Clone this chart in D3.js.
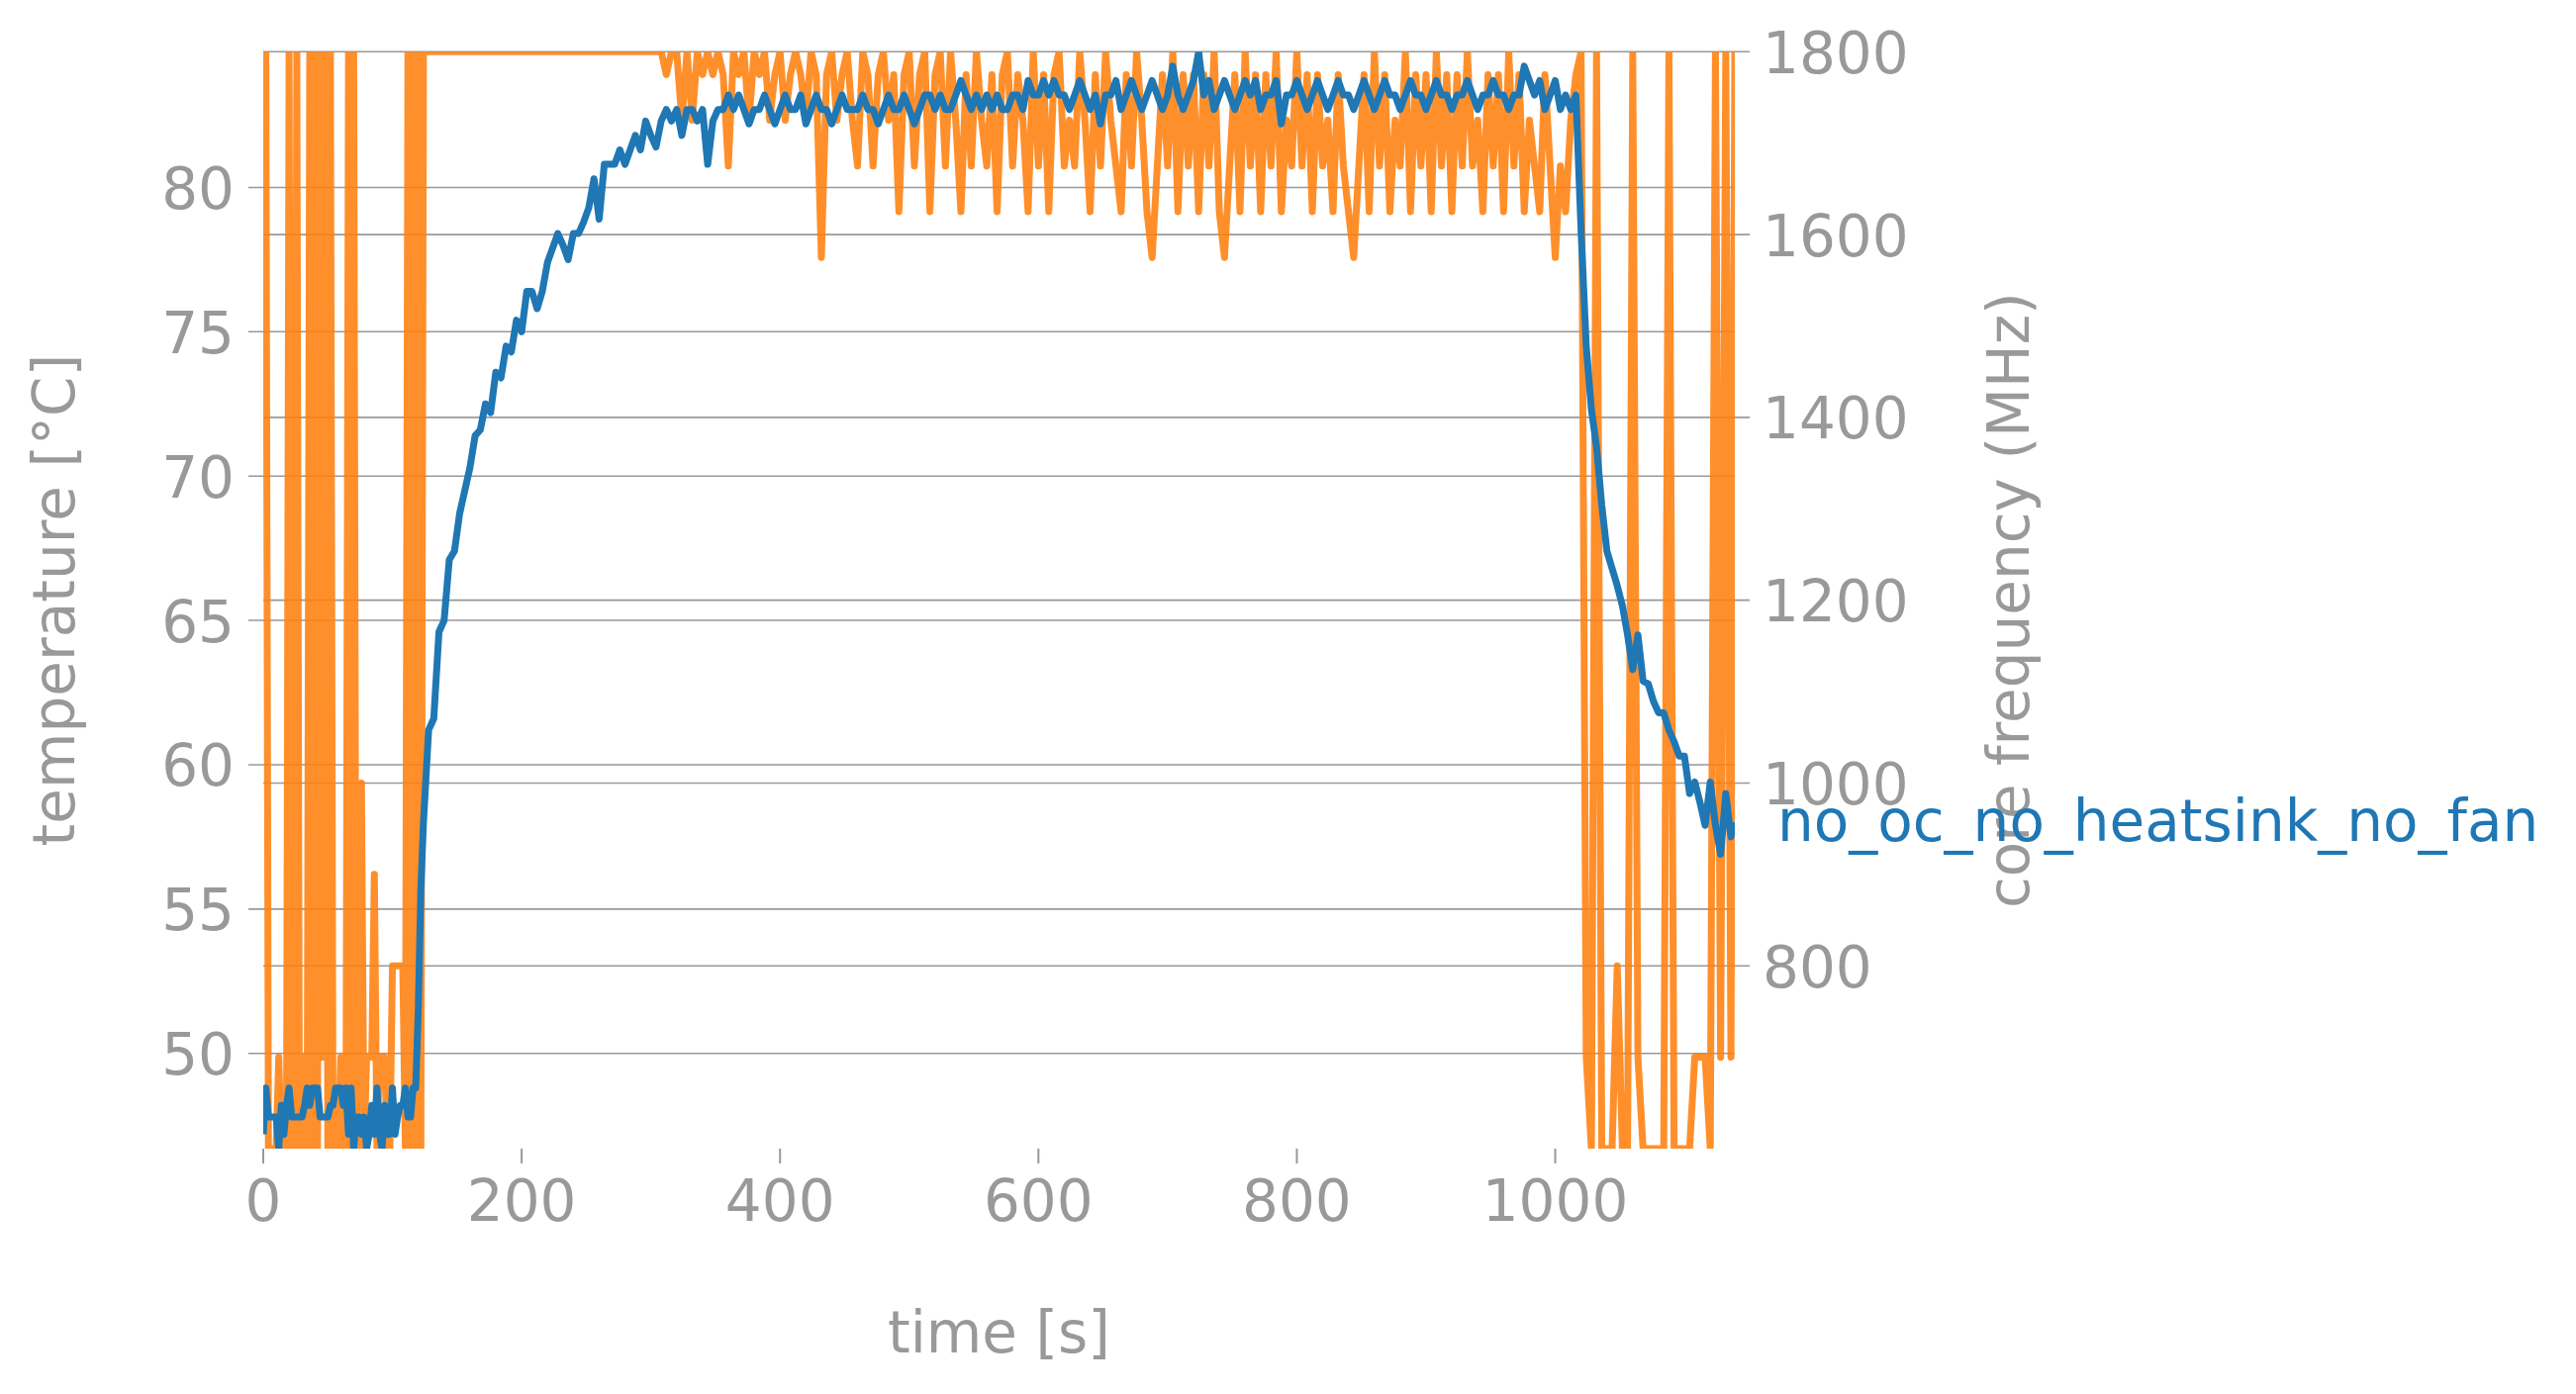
<!DOCTYPE html>
<html>
<head>
<meta charset="utf-8">
<script src="https://cdn.jsdelivr.net/npm/d3@7"></script>
<style>
  html, body { margin: 0; padding: 0; background: #ffffff; }
  svg { display: block; }
</style>
</head>
<body>
<div id="chart"></div>
<script>
// sample times in seconds (2 s while idle, then roughly every 4 s)
var timeSec = [
    0, 2, 4, 6, 8, 10, 12, 14, 16, 18,
    20, 22, 24, 26, 28, 30, 32, 34, 36, 38,
    40, 42, 44, 46, 48, 50, 52, 54, 56, 58,
    60, 62, 64, 66, 68, 70, 72, 74, 76, 78,
    80, 82, 84, 86, 88, 90, 92, 94, 96, 98,
    100, 102, 104, 106, 108, 110, 112, 114, 116, 118,
    120, 122,
    124, 128, 132, 136, 140, 144, 148, 152, 156,
    160, 164, 168, 172, 176, 180, 184, 188, 192, 196,
    200, 204, 208, 212, 216, 220, 224, 228, 232, 236,
    240, 244, 248, 252, 256, 260, 264, 268, 272, 276,
    280, 284, 288, 292, 296, 300, 304, 308, 312, 316,
    320, 324, 328, 332, 336, 340, 344, 348, 352, 356,
    360, 364, 368, 372, 376, 380, 384, 388, 392, 396,
    400, 404, 408, 412, 416, 420, 424, 428, 432, 436,
    440, 444, 448, 452, 456, 460, 464, 468, 472, 476,
    480, 484, 488, 492, 496, 500, 504, 508, 512, 516,
    520, 524, 528, 532, 536, 540, 544, 548, 552, 556,
    560, 564, 568, 572, 576, 580, 584, 588, 592, 596,
    600, 604, 608, 612, 616, 620, 624, 628, 632, 636,
    640, 644, 648, 652, 656, 660, 664, 668, 672, 676,
    680, 684, 688, 692, 696, 700, 704, 708, 712, 716,
    720, 724, 728, 732, 736, 740, 744, 748, 752, 756,
    760, 764, 768, 772, 776, 780, 784, 788, 792, 796,
    800, 804, 808, 812, 816, 820, 824, 828, 832, 836,
    840, 844, 848, 852, 856, 860, 864, 868, 872, 876,
    880, 884, 888, 892, 896, 900, 904, 908, 912, 916,
    920, 924, 928, 932, 936, 940, 944, 948, 952, 956,
    960, 964, 968, 972, 976, 980, 984, 988, 992, 996,
    1000, 1004, 1008, 1012, 1016, 1020, 1024, 1028, 1032, 1036,
    1040, 1044, 1048, 1052, 1056, 1060, 1064, 1068, 1072, 1076,
    1080, 1084, 1088, 1092, 1096, 1100, 1104, 1108, 1112, 1116,
    1120, 1124, 1128, 1132, 1136, 1139
];

// SoC temperature, °C
var temperature = [
    47.2, 48.8, 47.8, 47.8, 47.8, 47.8, 46.7, 48.2, 47.2, 48.2,
    48.8, 47.8, 47.8, 47.8, 47.8, 47.8, 48.2, 48.8, 48.2, 48.8,
    48.8, 48.8, 47.8, 47.8, 47.8, 47.8, 48.2, 48.2, 48.8, 48.8,
    48.8, 48.2, 48.8, 47.2, 48.8, 46.7, 47.8, 47.8, 47.2, 47.8,
    46.7, 47.2, 48.2, 47.2, 48.8, 47.2, 46.7, 48.2, 47.2, 47.2,
    48.8, 47.2, 47.8, 48.2, 48.2, 48.8, 47.8, 47.8, 48.8, 48.8,
    51.5, 55.7,
    58.0, 61.2, 61.6, 64.6, 65.0, 67.1, 67.4, 68.7, 69.5,
    70.3, 71.4, 71.6, 72.5, 72.2, 73.6, 73.4, 74.5, 74.3, 75.4,
    75.0, 76.4, 76.4, 75.8, 76.4, 77.4, 77.9, 78.4, 78.0, 77.5,
    78.4, 78.4, 78.8, 79.3, 80.3, 78.9, 80.8, 80.8, 80.8, 81.3,
    80.8, 81.3, 81.8, 81.3, 82.3, 81.8, 81.4, 82.3, 82.7, 82.3,
    82.7, 81.8, 82.7, 82.7, 82.3, 82.7, 80.8, 82.3, 82.7, 82.7,
    83.2, 82.7, 83.2, 82.7, 82.2, 82.7, 82.7, 83.2, 82.7, 82.2,
    82.7, 83.2, 82.7, 82.7, 83.2, 82.2, 82.7, 83.2, 82.7, 82.7,
    82.2, 82.7, 83.2, 82.7, 82.7, 82.7, 83.2, 82.7, 82.7, 82.2,
    82.7, 83.2, 82.7, 82.7, 83.2, 82.7, 82.2, 82.7, 83.2, 83.2,
    82.7, 83.2, 82.7, 82.7, 83.2, 83.7, 83.2, 82.7, 83.2, 82.7,
    83.2, 82.7, 83.2, 82.7, 82.7, 83.2, 83.2, 82.7, 83.7, 83.2,
    83.2, 83.7, 83.2, 83.7, 83.2, 83.2, 82.7, 83.2, 83.7, 83.2,
    82.7, 83.2, 82.2, 83.2, 83.2, 83.7, 82.7, 83.2, 83.7, 83.2,
    82.7, 83.2, 83.7, 83.2, 82.7, 83.2, 84.2, 83.2, 82.7, 83.2,
    83.7, 84.7, 83.2, 83.7, 82.7, 83.2, 83.7, 83.2, 82.7, 83.2,
    83.7, 83.2, 83.7, 82.7, 83.2, 83.2, 83.7, 82.2, 83.2, 83.2,
    83.7, 83.2, 82.7, 83.2, 83.7, 83.2, 82.7, 83.2, 83.7, 83.2,
    83.2, 82.7, 83.2, 83.7, 83.2, 82.7, 83.2, 83.7, 83.2, 83.2,
    82.7, 83.2, 83.7, 83.2, 83.2, 82.7, 83.2, 83.7, 83.2, 83.2,
    82.7, 83.2, 83.2, 83.7, 83.2, 82.7, 83.2, 83.2, 83.7, 83.2,
    83.2, 82.7, 83.2, 83.2, 84.2, 83.7, 83.2, 83.7, 82.7, 83.2,
    83.7, 82.7, 83.2, 82.7, 83.2, 78.5, 74.5, 72.3, 71.0, 69.0,
    67.4, 66.8, 66.2, 65.5, 64.5, 63.3, 64.5, 62.9, 62.8, 62.2,
    61.8, 61.8, 61.2, 60.8, 60.3, 60.3, 59.0, 59.4, 58.7, 57.9,
    59.4, 57.9, 56.9, 59.0, 57.5, 58.0
];

// ARM core frequency, MHz
var coreFreq = [
    1800, 1800, 600, 600, 600, 600, 700, 600, 600, 600,
    1800, 600, 600, 1800, 600, 600, 700, 600, 1800, 600,
    1800, 600, 1800, 700, 1800, 600, 1800, 600, 600, 600,
    700, 600, 600, 1800, 600, 1800, 600, 600, 1000, 600,
    700, 700, 700, 900, 600, 700, 700, 700, 600, 600,
    800, 800, 800, 800, 800, 600, 1800, 600, 1800, 600,
    1800, 600,
    1800, 1800, 1800, 1800, 1800, 1800, 1800, 1800, 1800,
    1800, 1800, 1800, 1800, 1800, 1800, 1800, 1800, 1800, 1800,
    1800, 1800, 1800, 1800, 1800, 1800, 1800, 1800, 1800, 1800,
    1800, 1800, 1800, 1800, 1800, 1800, 1800, 1800, 1800, 1800,
    1800, 1800, 1800, 1800, 1800, 1800, 1800, 1800, 1775, 1800,
    1800, 1725, 1800, 1725, 1800, 1775, 1800, 1775, 1800, 1775,
    1675, 1800, 1775, 1800, 1725, 1800, 1775, 1800, 1725, 1775,
    1800, 1725, 1775, 1800, 1775, 1725, 1800, 1775, 1575, 1775,
    1800, 1725, 1775, 1800, 1725, 1675, 1800, 1775, 1675, 1775,
    1800, 1725, 1775, 1625, 1775, 1800, 1675, 1775, 1800, 1625,
    1775, 1800, 1675, 1800, 1725, 1625, 1775, 1675, 1800, 1725,
    1675, 1775, 1625, 1775, 1800, 1675, 1775, 1725, 1625, 1800,
    1675, 1775, 1625, 1775, 1800, 1675, 1725, 1675, 1800, 1725,
    1625, 1775, 1675, 1800, 1725, 1675, 1625, 1775, 1675, 1800,
    1725, 1625, 1575, 1675, 1775, 1675, 1800, 1625, 1775, 1675,
    1775, 1625, 1775, 1675, 1800, 1625, 1575, 1675, 1775, 1625,
    1800, 1675, 1775, 1625, 1775, 1675, 1800, 1625, 1725, 1675,
    1800, 1675, 1775, 1625, 1775, 1675, 1725, 1625, 1775, 1675,
    1625, 1575, 1675, 1775, 1625, 1800, 1675, 1775, 1625, 1725,
    1675, 1800, 1625, 1775, 1675, 1775, 1625, 1800, 1675, 1775,
    1625, 1775, 1675, 1800, 1675, 1725, 1625, 1775, 1675, 1775,
    1625, 1800, 1675, 1775, 1625, 1725, 1675, 1625, 1775, 1675,
    1575, 1675, 1625, 1725, 1775, 1800, 700, 600, 1800, 600,
    600, 600, 800, 600, 600, 1800, 700, 600, 600, 600,
    600, 600, 1800, 600, 600, 600, 600, 700, 700, 700,
    600, 1800, 700, 1800, 700, 1800
];

var timeTicks = [0, 200, 400, 600, 800, 1000];
var tempTicks = [50, 55, 60, 65, 70, 75, 80];
var freqTicks = [800, 1000, 1200, 1400, 1600, 1800];
var runName = "no_oc_no_heatsink_no_fan";

function drawThermalChart() {
    var W = 2603, H = 1409;
    var plot = {left: 266, right: 1753, top: 52.3, bottom: 1161};
    var gray = "#999999";
    var font = "'DejaVu Sans', Verdana, sans-serif";
    var fontSize = 58;
    var tickLen = 15;

    var svg = d3.select("#chart").append("svg")
        .attr("width", W)
        .attr("height", H)
        .style("background", "#ffffff");

    var x = d3.scaleLinear().domain([0, 1139]).range([plot.left, plot.right]);
    var yT = d3.scaleLinear().domain([46.7, 84.7]).range([plot.bottom, plot.top]);
    var yF = d3.scaleLinear().domain([600, 1800]).range([plot.bottom, plot.top]);

    svg.append("defs").append("clipPath")
        .attr("id", "plotClip")
        .append("rect")
        .attr("x", plot.left)
        .attr("y", plot.top)
        .attr("width", plot.right - plot.left)
        .attr("height", plot.bottom - plot.top);

    // grid lines (temperature axis, tick sticks out to the left)
    svg.append("g").selectAll("line")
        .data(tempTicks)
        .enter().append("line")
        .attr("x1", plot.left - tickLen)
        .attr("x2", plot.right)
        .attr("y1", function(d) { return yT(d); })
        .attr("y2", function(d) { return yT(d); })
        .attr("stroke", gray)
        .attr("stroke-width", 1.6);

    // grid lines (frequency axis, tick sticks out to the right)
    svg.append("g").selectAll("line")
        .data(freqTicks)
        .enter().append("line")
        .attr("x1", plot.left)
        .attr("x2", plot.right + tickLen)
        .attr("y1", function(d) { return yF(d); })
        .attr("y2", function(d) { return yF(d); })
        .attr("stroke", gray)
        .attr("stroke-width", 1.6);

    // x ticks
    svg.append("g").selectAll("line")
        .data(timeTicks)
        .enter().append("line")
        .attr("x1", function(d) { return x(d); })
        .attr("x2", function(d) { return x(d); })
        .attr("y1", plot.bottom)
        .attr("y2", plot.bottom + tickLen)
        .attr("stroke", gray)
        .attr("stroke-width", 2);

    var points = timeSec.map(function(t, i) {
        return {t: t, temp: temperature[i], freq: coreFreq[i]};
    });

    var freqLine = d3.line()
        .x(function(d) { return x(d.t); })
        .y(function(d) { return yF(d.freq); });

    var tempLine = d3.line()
        .x(function(d) { return x(d.t); })
        .y(function(d) { return yT(d.temp); });

    var lines = svg.append("g").attr("clip-path", "url(#plotClip)");

    lines.append("path")
        .datum(points)
        .attr("d", freqLine)
        .attr("fill", "none")
        .attr("stroke", "#ff7f0e")
        .attr("stroke-opacity", 0.88)
        .attr("stroke-width", 7)
        .attr("stroke-linejoin", "round");

    lines.append("path")
        .datum(points)
        .attr("d", tempLine)
        .attr("fill", "none")
        .attr("stroke", "#1f77b4")
        .attr("stroke-width", 7)
        .attr("stroke-linejoin", "round");

    var txt = svg.append("g")
        .style("font-family", font)
        .style("font-size", fontSize + "px")
        .style("fill", gray);

    txt.selectAll(".tlab")
        .data(tempTicks)
        .enter().append("text")
        .attr("class", "tlab")
        .attr("x", plot.left - tickLen - 14)
        .attr("y", function(d) { return yT(d); })
        .attr("dy", "0.37em")
        .attr("text-anchor", "end")
        .text(function(d) { return d; });

    txt.selectAll(".flab")
        .data(freqTicks)
        .enter().append("text")
        .attr("class", "flab")
        .attr("x", plot.right + tickLen + 13)
        .attr("y", function(d) { return yF(d); })
        .attr("dy", "0.37em")
        .attr("text-anchor", "start")
        .text(function(d) { return d; });

    txt.selectAll(".xlab")
        .data(timeTicks)
        .enter().append("text")
        .attr("class", "xlab")
        .attr("x", function(d) { return x(d); })
        .attr("y", 1234)
        .attr("text-anchor", "middle")
        .text(function(d) { return d; });

    var midY = (plot.top + plot.bottom) / 2;

    txt.append("text")
        .attr("x", (plot.left + plot.right) / 2)
        .attr("y", 1367)
        .attr("text-anchor", "middle")
        .text("time [s]");

    txt.append("text")
        .attr("transform", "translate(75," + midY + ") rotate(-90)")
        .attr("text-anchor", "middle")
        .text("temperature [°C]");

    txt.append("text")
        .attr("transform", "translate(2050," + midY + ") rotate(-90)")
        .attr("text-anchor", "middle")
        .text("core frequency (MHz)");

    // run label next to the end of the temperature curve
    var last = points[points.length - 1];
    svg.append("text")
        .attr("x", x(last.t) + 43)
        .attr("y", yT(last.temp))
        .attr("dy", "0.33em")
        .style("font-family", font)
        .style("font-size", fontSize + "px")
        .style("fill", "#1f77b4")
        .text(runName);
}

drawThermalChart();
</script>
</body>
</html>
